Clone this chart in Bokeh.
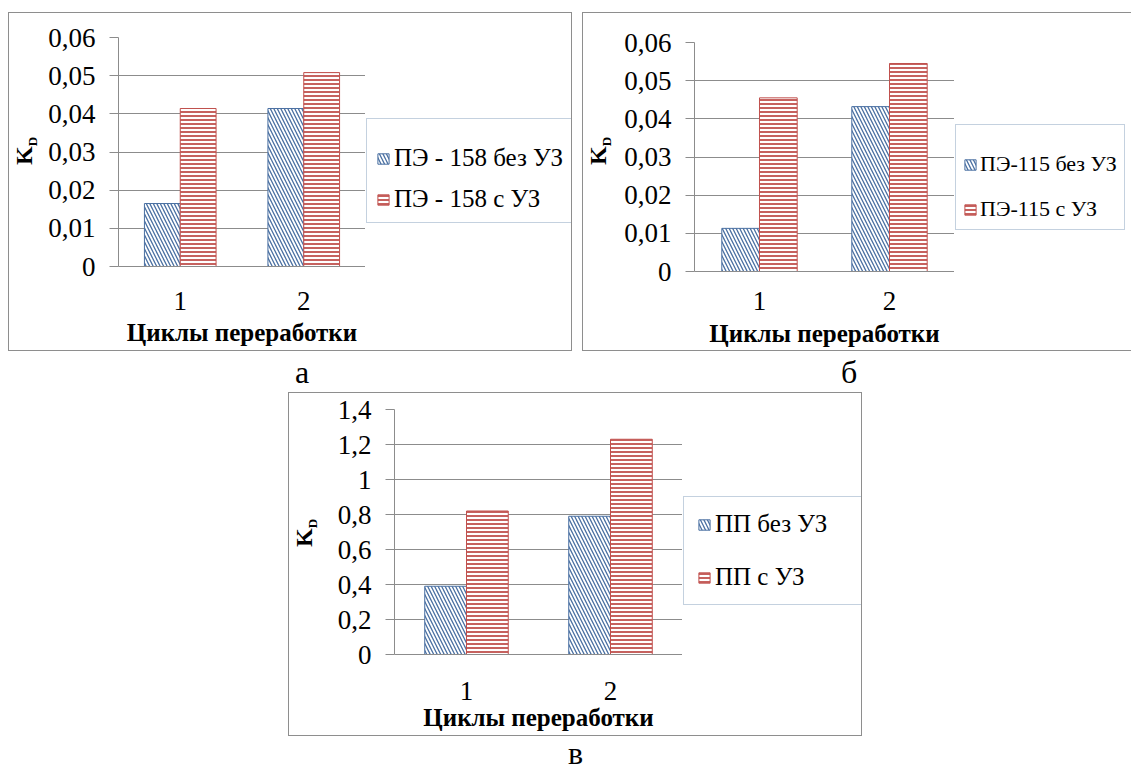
from bokeh.plotting import figure
from bokeh.models import (ColumnDataSource, FactorRange, Range1d, FixedTicker,
                          CustomJSTickFormatter, Legend, LegendItem, Div, Spacer)
from bokeh.layouts import column, row
from bokeh.transform import dodge
from bokeh.core.properties import value
from bokeh.embed import file_html
from bokeh.resources import INLINE

# ---------------- data ----------------
CYCLES = ["1", "2"]
XLABEL = "Циклы переработки"
YLABEL_MAIN = "K"
YLABEL_SUB = "D"

A_SERIES = ["ПЭ - 158 без УЗ", "ПЭ - 158 с УЗ"]
A_NO_US = [0.0165, 0.0414]
A_US = [0.0414, 0.0508]

B_SERIES = ["ПЭ-115 без УЗ", "ПЭ-115 с УЗ"]
B_NO_US = [0.0113, 0.0432]
B_US = [0.0455, 0.0545]

C_SERIES = ["ПП без УЗ", "ПП с УЗ"]
C_NO_US = [0.39, 0.79]
C_US = [0.82, 1.23]

SMALL_TICKS = [0, 0.01, 0.02, 0.03, 0.04, 0.05, 0.06]
SMALL_TICK_LABELS = ["0", "0,01", "0,02", "0,03", "0,04", "0,05", "0,06"]
PP_TICKS = [0, 0.2, 0.4, 0.6, 0.8, 1.0, 1.2, 1.4]
PP_TICK_LABELS = ["0", "0,2", "0,4", "0,6", "0,8", "1", "1,2", "1,4"]

PANEL_LETTERS = ["а", "б", "в"]

# ---------------- style ----------------
BLUE = "#4a70a2"
RED = "#c0504d"
GRID = "#8c8c8c"
BOX = "#8e8e8e"
LEG_BORDER = "#8aa3bf"
SERIF = "Liberation Serif"

BAR_NO = dict(width=0.29, fill_color="white", line_color=BLUE, line_width=1,
              hatch_pattern="left_diagonal_line", hatch_color=BLUE,
              hatch_scale=7, hatch_weight=1.3)
BAR_US = dict(width=0.29, fill_color="white", line_color=RED, line_width=1,
              hatch_pattern="horizontal_line", hatch_color=RED,
              hatch_scale=4, hatch_weight=1.8)


def add_bars(p, src):
    r1 = p.vbar(x=dodge("cat", -0.145, range=p.x_range), top="no", source=src, **BAR_NO)
    r2 = p.vbar(x=dodge("cat", 0.145, range=p.x_range), top="us", source=src, **BAR_US)
    return r1, r2


def make_chart(src, ticks, tick_labels, cfg):
    p = figure(x_range=FactorRange(factors=CYCLES), y_range=Range1d(0, ticks[-1]),
               width=cfg["w"], height=cfg["h"],
               min_border_left=cfg["l"], min_border_right=0,
               min_border_top=cfg["t"], min_border_bottom=cfg["b"],
               output_backend="svg", toolbar_location=None,
               outline_line_color=None, border_fill_color="white",
               background_fill_color="white")
    add_bars(p, src)

    p.xgrid.grid_line_color = None
    p.ygrid.grid_line_color = GRID
    p.ygrid.grid_line_width = 1
    p.yaxis.ticker = FixedTicker(ticks=ticks)
    p.yaxis.formatter = CustomJSTickFormatter(
        args=dict(vals=ticks, labels=tick_labels),
        code="const i = vals.findIndex(v => Math.abs(v - tick) < 1e-9); return i >= 0 ? labels[i] : '';")
    p.yaxis.axis_line_color = GRID
    p.yaxis.major_tick_line_color = GRID
    p.yaxis.major_tick_out = 9
    p.yaxis.major_tick_in = 0
    p.yaxis.minor_tick_line_color = None
    p.yaxis.major_label_text_font = SERIF
    p.yaxis.major_label_text_font_size = "27px"
    p.yaxis.major_label_text_color = "black"
    p.yaxis.major_label_standoff = 14

    p.xaxis.axis_line_color = GRID
    p.xaxis.major_tick_line_color = None
    p.xaxis.minor_tick_line_color = None
    p.xaxis.major_label_text_font = SERIF
    p.xaxis.major_label_text_font_size = "27px"
    p.xaxis.major_label_text_color = "black"
    p.xaxis.major_label_standoff = cfg["xs"]
    p.xaxis.axis_label = XLABEL
    p.xaxis.axis_label_text_font = SERIF
    p.xaxis.axis_label_text_font_style = "bold"
    p.xaxis.axis_label_text_font_size = "25px"
    p.xaxis.axis_label_text_color = "black"
    p.xaxis.axis_label_standoff = cfg["ls"]
    return p


def make_legend_panel(src, series, cfg):
    # frame-only figure holding the legend; its proxy bars map to no factor, so they draw nothing
    p = figure(x_range=FactorRange(factors=["legend"]), y_range=Range1d(0, 1),
               width=cfg["w"], height=cfg["h"], min_border=0,
               x_axis_location=None, y_axis_location=None,
               output_backend="svg", toolbar_location=None,
               outline_line_color=None, border_fill_color="white",
               background_fill_color="white")
    p.grid.grid_line_color = None
    r1, r2 = add_bars(p, src)
    leg = Legend(items=[LegendItem(label=value(series[0]), renderers=[r1]),
                        LegendItem(label=value(series[1]), renderers=[r2])],
                 location=cfg["loc"],
                 label_text_font=SERIF, label_text_font_size=cfg.get("fs", "25px"),
                 label_text_color="black",
                 glyph_width=14, glyph_height=13, label_standoff=cfg.get("lst", 4),
                 label_height=24, label_width=cfg.get("lw", 20),
                 padding=cfg["pad"], spacing=cfg["sp"], margin=0,
                 border_line_color=LEG_BORDER, border_line_width=1,
                 background_fill_color="white", background_fill_alpha=1)
    if cfg.get("ts") is not None:
        leg.title = " "
        leg.title_text_font_size = "12px"
        leg.title_standoff = cfg["ts"]
    p.add_layout(leg)
    return p


def ylabel_div(height, cx, cy):
    html = (f'<div style="position:relative;width:36px;height:{height}px;">'
            f'<span style="position:absolute;left:{cx}px;top:{cy}px;'
            'transform:translate(-50%,-50%) rotate(-90deg);white-space:nowrap;'
            f"font-family:'{SERIF}';font-weight:bold;font-size:24px;line-height:24px;color:#000;\">"
            f'{YLABEL_MAIN}<span style="font-size:13px;position:relative;top:5px;">{YLABEL_SUB}</span>'
            '</span></div>')
    return Div(text=html, width=36, height=height, margin=0)


def hline(w):
    return Spacer(width=w, height=1, styles={"background-color": BOX})


def vline(h):
    return Spacer(width=1, height=h, styles={"background-color": BOX})


src_a = ColumnDataSource(dict(cat=CYCLES, no=A_NO_US, us=A_US))
src_b = ColumnDataSource(dict(cat=CYCLES, no=B_NO_US, us=B_US))
src_c = ColumnDataSource(dict(cat=CYCLES, no=C_NO_US, us=C_US))

pa = make_chart(src_a, SMALL_TICKS, SMALL_TICK_LABELS,
                dict(w=320, h=337, l=72, t=24, b=84, xs=19, ls=6))
la = make_legend_panel(src_a, A_SERIES, dict(w=206, h=337, loc=(1, 43), pad=9, sp=13, ts=2))

pb = make_chart(src_b, SMALL_TICKS, SMALL_TICK_LABELS,
                dict(w=335, h=337, l=75, t=29, b=79, xs=14, ls=7))
lb = make_legend_panel(src_b, B_SERIES, dict(w=177, h=337, loc=(1, 41), pad=7, sp=19, ts=5,
                                            fs="22px", lst=3))

pc = make_chart(src_c, PP_TICKS, PP_TICK_LABELS,
                dict(w=357, h=342, l=69, t=16, b=81, xs=21, ls=1))
lc = make_legend_panel(src_c, C_SERIES, dict(w=179, h=342, loc=(1, 49), pad=13, sp=25, lw=133))

box_a = column(hline(564), row(vline(337), ylabel_div(337, 17, 138), pa, la, vline(337)), hline(564))
box_b = column(hline(549), row(vline(337), ylabel_div(337, 17, 138), pb, lb), hline(549))
box_c = column(hline(574), row(vline(342), ylabel_div(342, 17, 140), pc, lc, vline(342)), hline(574))

LETTER_STYLE = ("position:absolute;font-family:'Liberation Serif';font-size:32px;"
                "line-height:24px;color:#000;")
mid_html = ('<div style="position:relative;width:1131px;height:41px;">'
            f'<span style="{LETTER_STYLE}left:295px;top:9px;">{PANEL_LETTERS[0]}</span>'
            f'<span style="{LETTER_STYLE}left:841px;top:9px;">{PANEL_LETTERS[1]}</span>'
            '</div>')
bot_html = ('<div style="position:relative;width:1131px;height:33px;">'
            f'<span style="{LETTER_STYLE}left:568px;top:5px;">{PANEL_LETTERS[2]}</span>'
            '</div>')

layout = column(
    Spacer(width=1131, height=12),
    row(Spacer(width=8, height=339), box_a, Spacer(width=10, height=339), box_b),
    Div(text=mid_html, width=1131, height=41, margin=0),
    row(Spacer(width=288, height=344), box_c),
    Div(text=bot_html, width=1131, height=33, margin=0),
)

open("out.html", "w").write(file_html(layout, INLINE))
